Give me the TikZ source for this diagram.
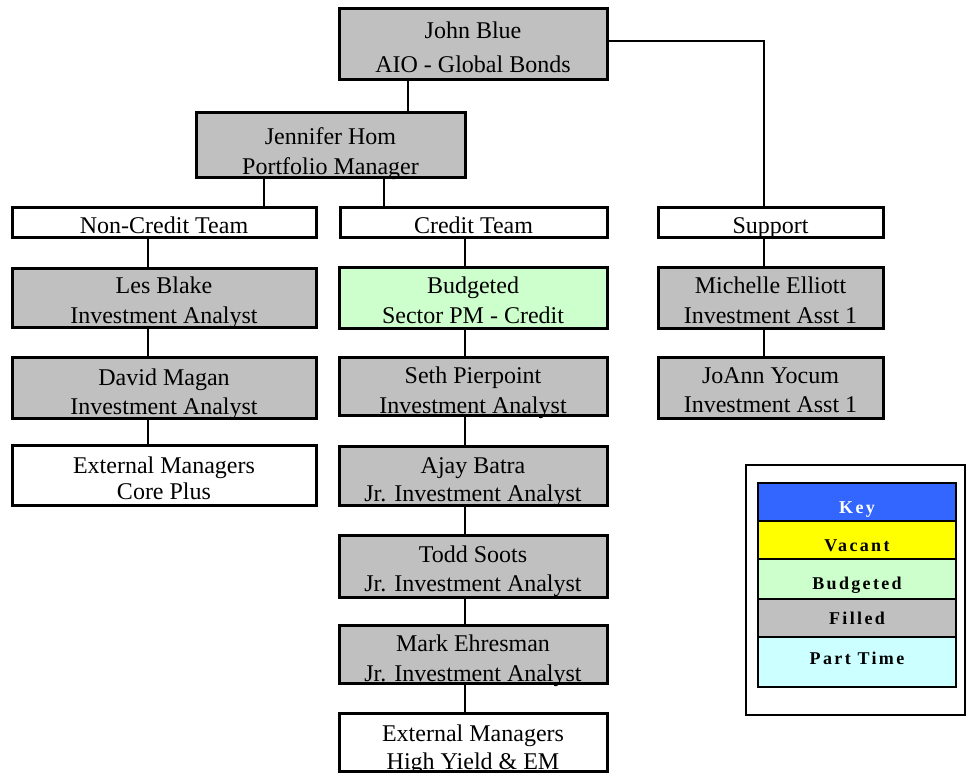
\documentclass[tikz,border=0pt]{standalone}
\usepackage{fontspec}
\setmainfont{Liberation Serif}
\usetikzlibrary{fit}
\definecolor{filledgray}{HTML}{C0C0C0}
\definecolor{budgetgreen}{HTML}{CCFFCC}
\definecolor{keyblue}{HTML}{3366FF}
\definecolor{vacantyellow}{HTML}{FFFF00}
\definecolor{parttimecyan}{HTML}{CCFFFF}
\begin{document}
\begin{tikzpicture}[x=1pt,y=-1pt,
  box/.style={draw, line width=3pt, rectangle, inner sep=0pt},
  filledbox/.style={box, fill=filledgray},
  budgetbox/.style={box, fill=budgetgreen},
  plainbox/.style={box, fill=white},
  ln/.style={anchor=base, inner sep=0pt, font=\fontsize{24}{30}\selectfont},
  wire/.style={line width=2pt},
  cell/.style={draw, line width=2pt, rectangle, inner sep=0pt},
  keytxt/.style={anchor=base, inner sep=0pt,
    font=\fontsize{18}{20}\selectfont\bfseries\addfontfeature{LetterSpace=13}}]
\useasboundingbox (0,0) rectangle (966,773);

% ---- top of the chart
\node[filledbox, fit={(339,9) (607,80)}] (jb) {};
\node[ln] (jb1) at (jb.center |- 0,39) {John Blue};
\node[ln] (jb2) at (jb.center |- 0,73) {AIO - Global Bonds};

\node[filledbox, fit={(196,113) (465,177)}] (jh) {};
\node[ln] (jh1) at (jh.center |- 0,145) {Jennifer Hom};
\node[ln] (jh2) at (jh.center |- 0,174) {Portfolio Manager};

% ---- team headers
\node[plainbox, fit={(12,207) (316,237)}] (nct) {};
\node[ln] (nct1) at (nct.center |- 0,233) {Non-Credit Team};
\node[plainbox, fit={(340,207) (607,237)}] (ct) {};
\node[ln] (ct1) at (ct.center |- 0,233) {Credit Team};
\node[plainbox, fit={(658,207) (883,237)}] (sup) {};
\node[ln] (sup1) at (sup.center |- 0,233) {Support};

% ---- non-credit column
\node[filledbox, fit={(12,268) (316,327)}] (les) {};
\node[ln] (les1) at (les.center |- 0,293) {Les Blake};
\node[ln] (les2) at (les.center |- 0,323) {Investment Analyst};
\node[filledbox, fit={(12,357) (316,418)}] (dm) {};
\node[ln] (dm1) at (dm.center |- 0,385) {David Magan};
\node[ln] (dm2) at (dm.center |- 0,414) {Investment Analyst};
\node[plainbox, fit={(12,445) (316,505)}] (ecp) {};
\node[ln] (ecp1) at (ecp.center |- 0,473) {External Managers};
\node[ln] (ecp2) at (ecp.center |- 0,499) {Core Plus};

% ---- credit column
\node[budgetbox, fit={(339,267) (607,328)}] (bud) {};
\node[ln] (bud1) at (bud.center |- 0,293) {Budgeted};
\node[ln] (bud2) at (bud.center |- 0,323) {Sector PM - Credit};
\node[filledbox, fit={(339,357) (607,415)}] (sp) {};
\node[ln] (sp1) at (sp.center |- 0,383) {Seth Pierpoint};
\node[ln] (sp2) at (sp.center |- 0,413) {Investment Analyst};
\node[filledbox, fit={(339,446) (607,505)}] (ab) {};
\node[ln] (ab1) at (ab.center |- 0,473) {Ajay Batra};
\node[ln] (ab2) at (ab.center |- 0,501) {Jr. Investment Analyst};
\node[filledbox, fit={(339,535) (607,597)}] (ts) {};
\node[ln] (ts1) at (ts.center |- 0,562) {Todd Soots};
\node[ln] (ts2) at (ts.center |- 0,591) {Jr. Investment Analyst};
\node[filledbox, fit={(339,625) (607,683)}] (me) {};
\node[ln] (me1) at (me.center |- 0,651) {Mark Ehresman};
\node[ln] (me2) at (me.center |- 0,681) {Jr. Investment Analyst};
\node[plainbox, fit={(339,713) (607,771)}] (ehy) {};
\node[ln] (ehy1) at (ehy.center |- 0,741) {External Managers};
\node[ln] (ehy2) at (ehy.center |- 0,769) {High Yield \& EM};

% ---- support column
\node[filledbox, fit={(658,267) (883,328)}] (mel) {};
\node[ln] (mel1) at (mel.center |- 0,293) {Michelle Elliott};
\node[ln] (mel2) at (mel.center |- 0,323) {Investment Asst 1};
\node[filledbox, fit={(658,357) (883,418)}] (jy) {};
\node[ln] (jy1) at (jy.center |- 0,383) {JoAnn Yocum};
\node[ln] (jy2) at (jy.center |- 0,412) {Investment Asst 1};

% ---- connector columns
\coordinate (xjb) at (408,0);
\coordinate (xnc) at (264,0);
\coordinate (xcr) at (384,0);
\coordinate (xl) at (148,0);
\coordinate (xm) at (465,0);
\coordinate (xs) at (764,0);
\coordinate (ysup) at (0,41);

\draw[wire] (jb.south -| xjb) -- (jh.north -| xjb);
\draw[wire] (jb.east |- ysup) -| (sup.north -| xs);
\draw[wire] (jh.south -| xnc) -- (nct.north -| xnc);
\draw[wire] (jh.south -| xcr) -- (ct.north -| xcr);

\draw[wire] (nct.south -| xl) -- (les.north -| xl);
\draw[wire] (les.south -| xl) -- (dm.north -| xl);
\draw[wire] (dm.south -| xl) -- (ecp.north -| xl);

\draw[wire] (ct.south -| xm) -- (bud.north -| xm);
\draw[wire] (bud.south -| xm) -- (sp.north -| xm);
\draw[wire] (sp.south -| xm) -- (ab.north -| xm);
\draw[wire] (ab.south -| xm) -- (ts.north -| xm);
\draw[wire] (ts.south -| xm) -- (me.north -| xm);
\draw[wire] (me.south -| xm) -- (ehy.north -| xm);

\draw[wire] (sup.south -| xs) -- (mel.north -| xs);
\draw[wire] (mel.south -| xs) -- (jy.north -| xs);

% ---- colour key
\node[cell, fill=white, fit={(746,465) (965,715)}] (keyframe) {};
\node[cell, fill=keyblue, fit={(758,483) (956,521)}] (kkey) {};
\node[cell, fill=vacantyellow, fit={(758,521) (956,559)}] (kvac) {};
\node[cell, fill=budgetgreen, fit={(758,559) (956,599)}] (kbud) {};
\node[cell, fill=filledgray, fit={(758,599) (956,637)}] (kfil) {};
\node[cell, fill=parttimecyan, fit={(758,637) (956,687)}] (kpt) {};
\node[keytxt, text=white] (kkey1) at (kkey.center |- 0,513) {Key};
\node[keytxt] (kvac1) at (kvac.center |- 0,551) {Vacant};
\node[keytxt] (kbud1) at (kbud.center |- 0,589) {Budgeted};
\node[keytxt] (kfil1) at (kfil.center |- 0,624) {Filled};
\node[keytxt] (kpt1) at (kpt.center |- 0,664) {Part Time};
\end{tikzpicture}
\end{document}
